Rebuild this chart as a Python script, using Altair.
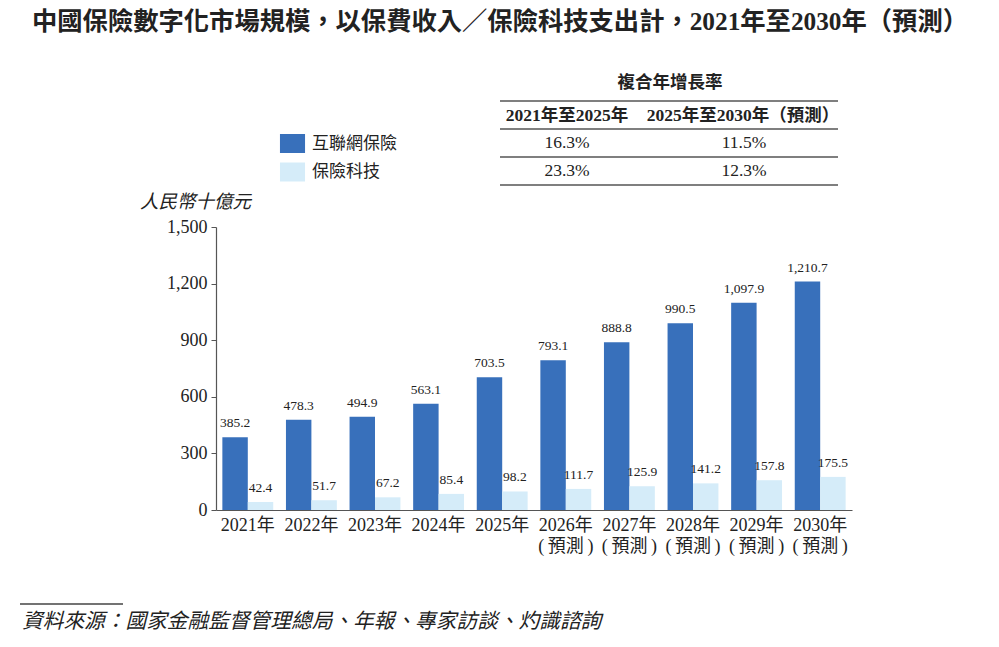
import altair as alt
import pandas as pd

# Categories and series values (RMB billion)
years = ["2021年", "2022年", "2023年", "2024年", "2025年",
         "2026年\n(\u2009預測\u2009)", "2027年\n(\u2009預測\u2009)", "2028年\n(\u2009預測\u2009)",
         "2029年\n(\u2009預測\u2009)", "2030年\n(\u2009預測\u2009)"]
internet_insurance = [385.2, 478.3, 494.9, 563.1, 703.5, 793.1, 888.8, 990.5, 1097.9, 1210.7]
insurtech = [42.4, 51.7, 67.2, 85.4, 98.2, 111.7, 125.9, 141.2, 157.8, 175.5]
series_names = ["互聯網保險", "保險科技"]
series_colors = ["#3870bb", "#d5ecf9"]

# CAGR table
cagr_title = "複合年增長率"
cagr_periods = ["2021年至2025年", "2025年至2030年（預測）"]
cagr_2021_2025 = ["16.3%", "23.3%"]
cagr_2025_2030 = ["11.5%", "12.3%"]

y_ticks = [0, 300, 600, 900, 1200, 1500]

title_text = "中國保險數字化市場規模，以保費收入／保險科技支出計，2021年至2030年（預測）"
unit_text = "人民幣十億元"
source_text = "資料來源：國家金融監督管理總局、年報、專家訪談、灼識諮詢"

SERIF = "Liberation Serif, Noto Sans CJK TC"
SANS = "Noto Sans CJK TC"

rows = []
for i, y in enumerate(years):
    rows.append({"year": y, "series": series_names[0], "value": internet_insurance[i]})
    rows.append({"year": y, "series": series_names[1], "value": insurtech[i]})
df = pd.DataFrame(rows)

x_enc = alt.X("year:N", sort=years, title=None,
              scale=alt.Scale(paddingInner=0.2, paddingOuter=0.1),
              axis=alt.Axis(labelAngle=0, ticks=False, labelPadding=6,
                            labelExpr="split(datum.label, '\\n')",
                            labelLineHeight=21, labelFontSize=18,
                            labelFont=SERIF, labelColor="#222"))
y_enc = alt.Y("value:Q", title=None,
              scale=alt.Scale(domain=[0, 1500], nice=False),
              axis=alt.Axis(values=y_ticks, format=",d", grid=False,
                            tickSize=5, labelFontSize=18, labelFont=SERIF,
                            labelColor="#222", labelPadding=4))
off_enc = alt.XOffset("series:N", sort=series_names,
                      scale=alt.Scale(paddingInner=0, paddingOuter=0))

base = alt.Chart(df)

# wide rectangular legend swatch
swatch = "M-1.32,-1H1.32V1H-1.32Z"

bars = base.mark_bar().encode(
    x=x_enc, y=y_enc, xOffset=off_enc,
    color=alt.Color("series:N",
                    scale=alt.Scale(domain=series_names, range=series_colors),
                    legend=alt.Legend(title=None, orient="none",
                                      legendX=67, legendY=-93,
                                      symbolType=swatch, symbolSize=361,
                                      symbolStrokeWidth=0, symbolOpacity=1,
                                      labelFontSize=17, labelFont=SANS,
                                      labelColor="#222", labelOffset=10,
                                      rowPadding=9.5)),
)

labels = base.mark_text(dy=-7, fontSize=13.5, font=SERIF, color="#222",
                        baseline="bottom").encode(
    x=alt.X("year:N", sort=years),
    xOffset=alt.XOffset("series:N", sort=series_names),
    y="value:Q",
    text=alt.Text("value:Q", format=",.1f"),
)


def text_layer(txt, x, y, size, font=SERIF, weight="normal", align="center",
               style="normal"):
    return alt.Chart(pd.DataFrame({"t": [txt]})).mark_text(
        fontSize=size, font=font, fontWeight=weight, align=align,
        fontStyle=style, baseline="middle", color="#222",
    ).encode(x=alt.value(x), y=alt.value(y), text="t:N")


def hrule(x1, x2, y, color="#555", width=1.3):
    return alt.Chart(pd.DataFrame({"k": [0]})).mark_rule(
        color=color, strokeWidth=width
    ).encode(x=alt.value(x1), x2=alt.value(x2), y=alt.value(y))


ox, oy = 216, 227  # plot origin in the page

layers = [bars, labels]
layers.append(text_layer(title_text, 500 - ox, 22 - oy, 25.3, weight="bold"))
layers.append(text_layer(cagr_title, 670 - ox, 83 - oy, 17.5, font=SANS, weight="bold"))
layers.append(text_layer(cagr_periods[0], 567 - ox, 116 - oy, 17.5, weight="bold"))
layers.append(text_layer(cagr_periods[1], 743 - ox, 116 - oy, 17.5, weight="bold"))
for r, yy in enumerate([143, 171]):
    layers.append(text_layer(cagr_2021_2025[r], 567 - ox, yy - oy, 17.5))
    layers.append(text_layer(cagr_2025_2030[r], 744 - ox, yy - oy, 17.5))
for yy in [101, 129, 157, 185]:
    layers.append(hrule(500 - ox, 838 - ox, yy - oy))
layers.append(text_layer(unit_text, 140 - ox, 202 - oy, 18.5, font=SANS,
                         align="left", style="italic"))
layers.append(hrule(20 - ox, 123 - ox, 604 - oy, color="#444", width=1.5))
layers.append(text_layer(source_text, 22 - ox, 622 - oy, 20.7, font=SANS,
                         align="left", style="italic"))

chart = alt.layer(*layers).properties(
    width=636, height=283,
    autosize=alt.AutoSizeParams(type="none"),
    padding={"left": ox, "top": oy, "right": 999 - ox - 636, "bottom": 647 - oy - 283},
    background="white",
).configure_view(stroke=None).configure_axis(
    domainColor="#555", tickColor="#555", domainWidth=1.2
)

chart.save("out.html", embed_options={"renderer": "svg", "actions": False})
